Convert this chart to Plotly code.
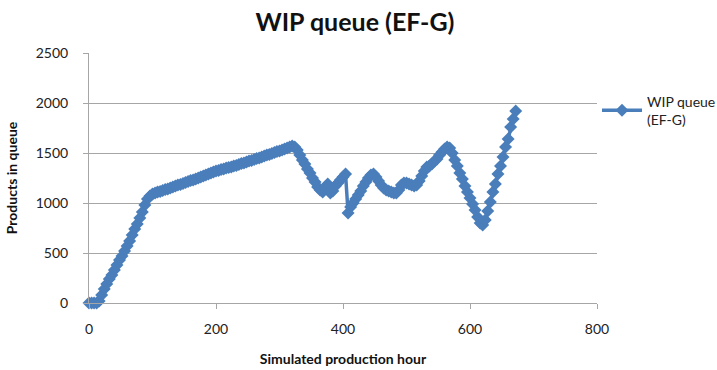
import plotly.graph_objects as go

# Simulated production hour (one reading every 4 hours)
hours = list(range(0, 673, 4))

# Products waiting in the EF-G queue at each reading
queue = [
    0, 0, 0, 0, 20, 80, 140, 190, 240, 280,              # 0-36
    330, 380, 430, 470, 520, 570, 620, 680, 740, 790,    # 40-76
    850, 910, 980, 1040, 1070, 1090, 1100, 1110, 1115, 1125,  # 80-116
    1135, 1140, 1150, 1160, 1170, 1180, 1185, 1195, 1205, 1215,  # 120-156
    1225, 1230, 1240, 1250, 1260, 1270, 1280, 1290, 1300, 1310,  # 160-196
    1320, 1325, 1335, 1340, 1350, 1355, 1360, 1370, 1375, 1385,  # 200-236
    1395, 1400, 1410, 1420, 1425, 1435, 1445, 1450, 1460, 1470,  # 240-276
    1480, 1485, 1495, 1505, 1515, 1520, 1530, 1540, 1550, 1560,  # 280-316
    1570, 1560, 1530, 1480, 1430, 1390, 1340, 1300, 1250, 1210,  # 320-356
    1160, 1130, 1110, 1160, 1190, 1100, 1120, 1170, 1200, 1230,  # 360-396
    1260, 1290, 900, 960, 1000, 1040, 1080, 1120, 1170, 1210,    # 400-436
    1250, 1280, 1290, 1260, 1220, 1180, 1150, 1130, 1120, 1110,  # 440-476
    1100, 1100, 1130, 1180, 1200, 1200, 1190, 1180, 1170, 1180,  # 480-516
    1220, 1270, 1320, 1360, 1370, 1390, 1420, 1440, 1480, 1510,  # 520-556
    1540, 1560, 1550, 1500, 1430, 1370, 1300, 1240, 1170, 1110,  # 560-596
    1050, 990, 930, 860, 800, 780, 830, 920, 1010, 1110,         # 600-636
    1190, 1290, 1370, 1460, 1560, 1640, 1760, 1840, 1920,        # 640-672
]

x_ticks = [0, 200, 400, 600, 800]
y_ticks = [0, 500, 1000, 1500, 2000, 2500]

blue = "#4A7EBB"
font = "Lato, 'Open Sans', sans-serif"

fig = go.Figure()
fig.add_trace(go.Scatter(
    x=hours,
    y=queue,
    mode="lines+markers",
    name="WIP queue<br>(EF-G)",
    line=dict(color=blue, width=3.5),
    marker=dict(symbol="diamond", size=10, color=blue),
    cliponaxis=False,
))

fig.update_layout(
    width=717,
    height=370,
    margin=dict(l=89, r=120, t=53, b=67, autoexpand=False),
    paper_bgcolor="white",
    plot_bgcolor="white",
    font=dict(family=font, size=14, color="#222222"),
    title=dict(
        text="<b>WIP queue (EF-G)</b>",
        x=0.495, xanchor="center",
        y=0.94, yanchor="middle",
        font=dict(family=font, size=25, color="#111111"),
    ),
    showlegend=True,
    legend=dict(
        x=1.0, xanchor="left",
        y=0.87, yanchor="top",
        font=dict(family=font, size=14, color="#222222"),
        bgcolor="rgba(0,0,0,0)",
        itemwidth=40,
    ),
    xaxis=dict(
        range=[0, 800],
        tickvals=x_ticks,
        showgrid=False,
        zeroline=False,
        showline=True,
        linecolor="#a6a6a6",
        linewidth=1,
        ticks="outside",
        ticklen=5,
        tickcolor="#a6a6a6",
        ticklabelstandoff=8,
        tickfont=dict(size=14, color="#222222"),
        title=dict(text="<b>Simulated production hour</b>",
                   font=dict(size=14, color="#111111"), standoff=18),
    ),
    yaxis=dict(
        range=[0, 2500],
        tickvals=y_ticks,
        showgrid=True,
        gridcolor="#a6a6a6",
        gridwidth=1,
        zeroline=False,
        showline=True,
        linecolor="#a6a6a6",
        linewidth=1,
        ticks="outside",
        ticklen=5,
        tickcolor="#a6a6a6",
        ticklabelstandoff=12,
        tickfont=dict(size=14, color="#222222"),
        title=dict(text="<b>Products in queue</b>",
                   font=dict(size=14, color="#111111"), standoff=14),
    ),
)

fig.write_html("out.html")
